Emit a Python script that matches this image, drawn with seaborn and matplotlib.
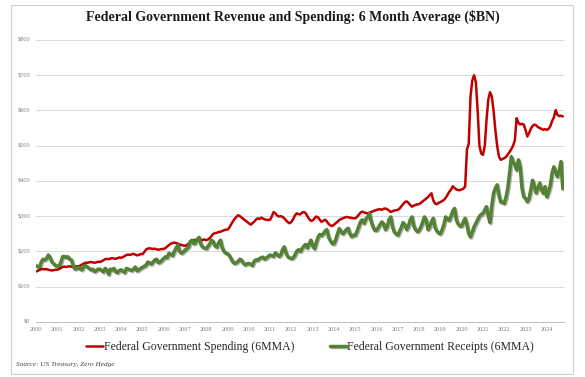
import numpy as np
import pandas as pd
import matplotlib
matplotlib.use("Agg")
import matplotlib.pyplot as plt
import matplotlib.dates as mdates
import matplotlib.patheffects as pe
from matplotlib.patches import Rectangle
import seaborn as sns

# --- Data: monthly 6MMA, $BN, Jan 2000 .. Oct 2024 ---
spending = [
    143, 145, 148, 150, 150, 149, 150, 148, 147, 146, 147, 148,   # 2000
    148, 150, 153, 156, 157, 156, 157, 158, 157, 155, 156, 158,   # 2001
    158, 160, 163, 166, 168, 168, 169, 170, 169, 168, 169, 171,   # 2002
    170, 172, 175, 178, 179, 178, 180, 181, 180, 179, 181, 183,   # 2003
    182, 184, 187, 190, 191, 190, 192, 193, 191, 189, 190, 193,   # 2004
    192, 198, 205, 208, 209, 208, 207, 208, 206, 205, 206, 207,   # 2005
    207, 210, 214, 218, 222, 224, 225, 224, 222, 220, 218, 217,   # 2006
    216, 218, 222, 227, 230, 232, 233, 231, 232, 231, 233, 234,   # 2007
    232, 234, 238, 244, 250, 252, 253, 255, 256, 258, 260, 262,   # 2008
    262, 268, 276, 285, 292, 298, 303, 300, 296, 292, 288, 284,   # 2009
    280, 276, 280, 284, 290, 294, 292, 296, 293, 291, 290, 289,   # 2010
    290, 300, 312, 308, 302, 299, 300, 298, 294, 288, 283, 280,   # 2011
    284, 292, 302, 308, 306, 305, 310, 312, 309, 300, 292, 287,   # 2012
    288, 294, 299, 297, 290, 284, 287, 290, 285, 278, 274, 272,   # 2013
    276, 280, 284, 289, 292, 294, 296, 298, 297, 296, 295, 294,   # 2014
    294, 298, 304, 310, 313, 311, 309, 308, 310, 312, 314, 316,   # 2015
    318, 319, 320, 318, 321, 322, 320, 316, 312, 314, 316, 317,   # 2016
    318, 322, 328, 334, 340, 342, 338, 332, 327, 330, 332, 334,   # 2017
    334, 338, 342, 346, 350, 354, 360, 365, 345, 336, 334, 338,   # 2018
    340, 343, 346, 352, 360, 369, 375, 385, 380, 376, 374, 374,   # 2019
    376, 378, 385, 490, 505, 640, 685, 700, 680, 600, 500, 478,   # 2020
    474, 500, 570, 630, 652, 640, 600, 545, 500, 470, 460, 462,   # 2021
    465, 468, 475, 482, 490, 500, 515, 578, 565, 560, 562, 560,   # 2022
    545, 526, 535, 548, 556, 560, 558, 553, 550, 548, 545, 547,   # 2023
    545, 548, 555, 570, 580, 601, 588, 584, 585, 583,             # 2024
]

receipts = [
    160, 157, 155, 170, 178, 176, 180, 190, 182, 170, 165, 160,   # 2000
    158, 160, 168, 185, 186, 183, 185, 178, 176, 160, 150, 152,   # 2001
    155, 150, 148, 158, 160, 156, 152, 148, 150, 143, 146, 150,   # 2002
    150, 146, 142, 152, 148, 135, 150, 148, 152, 142, 140, 146,   # 2003
    148, 144, 140, 152, 150, 148, 146, 150, 156, 145, 148, 152,   # 2004
    155, 158, 160, 170, 168, 164, 170, 176, 178, 168, 170, 175,   # 2005
    180, 185, 182, 195, 192, 188, 200, 210, 218, 200, 195, 198,   # 2006
    204, 208, 212, 228, 232, 222, 225, 235, 240, 220, 212, 210,   # 2007
    208, 215, 222, 232, 228, 215, 212, 225, 232, 210, 200, 195,   # 2008
    194, 188, 180, 170, 166, 168, 172, 178, 175, 166, 162, 165,   # 2009
    166, 164, 160, 172, 176, 175, 180, 182, 184, 178, 182, 186,   # 2010
    190, 188, 186, 196, 192, 186, 190, 205, 213, 195, 185, 182,   # 2011
    180, 182, 190, 200, 205, 200, 208, 215, 220, 210, 222, 232,   # 2012
    215, 208, 225, 240, 248, 245, 250, 258, 262, 240, 230, 222,   # 2013
    222, 235, 250, 265, 258, 250, 255, 262, 266, 250, 242, 246,   # 2014
    246, 258, 270, 284, 290, 280, 292, 298, 307, 285, 270, 260,   # 2015
    260, 268, 276, 284, 278, 262, 270, 290, 298, 270, 255, 250,   # 2016
    246, 258, 268, 282, 276, 262, 272, 290, 298, 272, 262, 256,   # 2017
    260, 270, 282, 298, 290, 262, 270, 285, 294, 268, 258, 252,   # 2018
    250, 262, 276, 298, 292, 288, 300, 315, 322, 290, 278, 272,   # 2019
    272, 285, 294, 275, 250, 241, 255, 270, 280, 290, 300, 305,   # 2020
    308, 318, 327, 300, 282, 330, 365, 380, 389, 360, 340, 340,   # 2021
    336, 355, 379, 420, 469, 455, 445, 431, 460, 440, 380, 355,   # 2022
    350, 341, 350, 374, 402, 385, 366, 380, 394, 375, 365, 384,   # 2023
    355, 370, 388, 423, 440, 425, 412, 430, 455, 378,             # 2024
]

TITLE = "Federal Government Revenue and Spending: 6 Month Average ($BN)"
SPEND_LABEL = "Federal Government Spending (6MMA)"
RECEIPT_LABEL = "Federal Government Receipts (6MMA)"
SOURCE = "Source: US Treasury, Zero Hedge"

RED = "#C00000"
GREEN = "#548235"

months = pd.date_range("2000-01-01", periods=len(spending), freq="MS")
df = pd.DataFrame({"date": months, "spending": spending, "receipts": receipts})

# --- Plot ---
sns.set_style("white")
plt.rcParams["font.family"] = ["Liberation Serif", "DejaVu Serif"]

fig = plt.figure(figsize=(5.85, 3.77), dpi=100)
ax = fig.add_axes([0.0615, 0.146, 0.9025, 0.748])

sns.lineplot(data=df, x="date", y="spending", ax=ax, color=RED, linewidth=1.8,
             label=SPEND_LABEL)
sns.lineplot(data=df, x="date", y="receipts", ax=ax, color=GREEN, linewidth=2.5,
             label=RECEIPT_LABEL)
# soft shadow on the receipts line, like the Excel original
ax.lines[1].set_path_effects([pe.SimpleLineShadow(offset=(0.8, -0.8), alpha=0.3),
                              pe.Normal()])

ax.set_ylim(0, 800)
ax.set_yticks(range(0, 801, 100))
ax.set_yticklabels([f"${v}" for v in range(0, 801, 100)])
ax.set_xlim(months[0], months[-1] + pd.Timedelta(days=20))
ax.xaxis.set_major_locator(mdates.YearLocator())
ax.xaxis.set_major_formatter(mdates.DateFormatter("%Y"))

ax.grid(axis="y", color="#D9D9D9", linewidth=0.7)
ax.grid(axis="x", visible=False)
for side in ["top", "right", "left"]:
    ax.spines[side].set_visible(False)
ax.spines["bottom"].set_color("#BFBFBF")
ax.spines["bottom"].set_linewidth(0.7)
ax.tick_params(axis="y", length=0, pad=4, labelsize=4.5, labelcolor="#7F7F7F")
ax.tick_params(axis="x", length=2, width=0.5, color="#BFBFBF", pad=1.5,
               labelsize=4.5, labelcolor="#7F7F7F")
ax.set_xlabel("")
ax.set_ylabel("")

ax.get_legend().remove()
handles, labels = ax.get_legend_handles_labels()
fig.legend(handles, labels, loc="center", bbox_to_anchor=(0.53, 0.08), ncol=2,
           frameon=False, fontsize=8.5, handlelength=1.4, handletextpad=0.1,
           columnspacing=3.0)

fig.text(0.5, 0.955, TITLE, ha="center", va="center", fontsize=10,
         fontweight="bold", color="#1A1A1A")
fig.text(0.027, 0.032, SOURCE, ha="left", va="center", fontsize=5.2,
         style="italic", color="#404040")

# light frame round the whole chart
fig.patches.append(Rectangle((0.019, 0.008), 0.96, 0.978, transform=fig.transFigure,
                             fill=False, edgecolor="#D0D0D0", linewidth=0.8))

fig.savefig("out.png", dpi=100)
